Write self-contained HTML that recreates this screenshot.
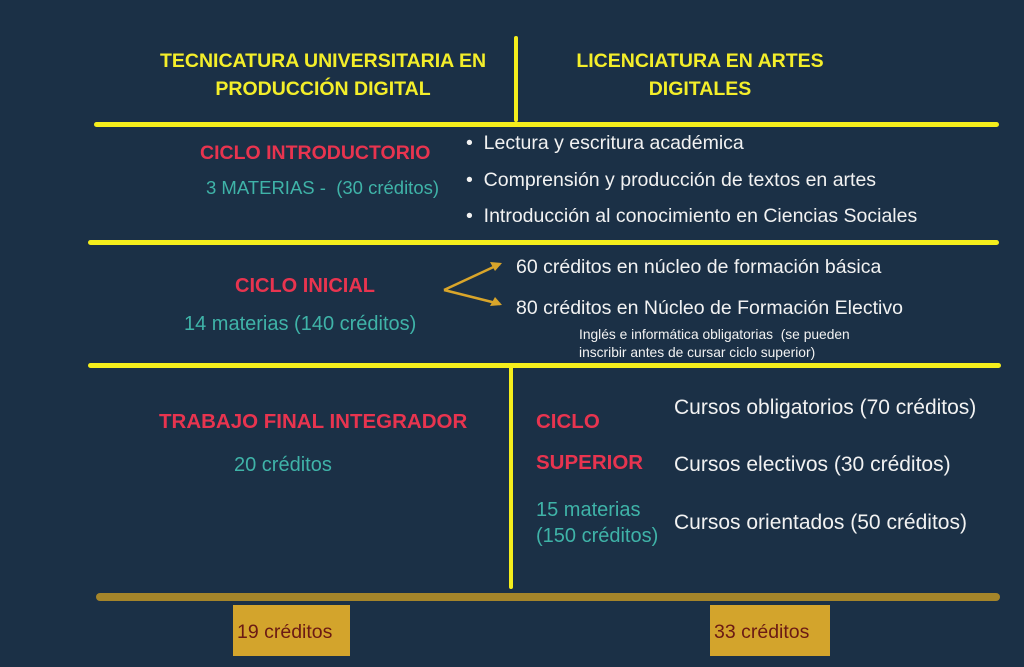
<!DOCTYPE html>
<html><head><meta charset="utf-8"><style>
body{margin:0;width:1024px;height:667px;background:#1b3046;position:relative;overflow:hidden;font-family:"Liberation Sans",sans-serif}
.t{position:absolute;white-space:nowrap}
.h{color:#f4ee2a;font-weight:bold;font-size:19.5px;text-align:center;line-height:28px}
.r{color:#e8344f;font-weight:bold;font-size:19.5px}
.g{color:#3fb3a8;font-size:18.5px}
.w{color:#f2f2f2;font-size:19.5px}
.c{color:#f2f2f2;font-size:21px}
.l{position:absolute;background:#f5ee1c;border-radius:3px}
</style></head><body>
<div class="t h" style="left:123px;top:47px;width:400px">TECNICATURA UNIVERSITARIA EN<br>PRODUCCIÓN DIGITAL</div>
<div class="t h" style="left:530px;top:47px;width:340px">LICENCIATURA EN ARTES<br>DIGITALES</div>
<div class="l" style="left:514px;top:36px;width:4px;height:86px"></div>
<div class="l" style="left:94px;top:122px;width:905px;height:5px"></div>
<div class="t r" style="left:200px;top:142px">CICLO INTRODUCTORIO</div>
<div class="t g" style="left:206px;top:177px">3 MATERIAS -&nbsp; (30 créditos)</div>
<div class="t w" style="left:466px;top:132px">•&nbsp; Lectura y escritura académica</div>
<div class="t w" style="left:466px;top:169px">•&nbsp; Comprensión y producción de textos en artes</div>
<div class="t w" style="left:466px;top:205px">•&nbsp; Introducción al conocimiento en Ciencias Sociales</div>
<div class="l" style="left:88px;top:240px;width:911px;height:5px"></div>
<div class="t r" style="left:235px;top:275px;font-size:20px">CICLO INICIAL</div>
<div class="t g" style="left:184px;top:313px;font-size:20px">14 materias (140 créditos)</div>
<svg class="t" style="left:440px;top:258px" width="70" height="56"><g stroke="#d9a52a" stroke-width="2.5" fill="none"><path d="M4 32 L60 6 M4 32 L60 46"/></g><path d="M62 5 L50 4 L55 13Z M62 47 L50 48 L55 39Z" fill="#d9a52a"/></svg>
<div class="t w" style="left:516px;top:256px">60 créditos en núcleo de formación básica</div>
<div class="t w" style="left:516px;top:297px">80 créditos en Núcleo de Formación Electivo</div>
<div class="t w" style="left:579px;top:326px;font-size:13.8px;line-height:18px">Inglés e informática obligatorias&nbsp; (se pueden<br>inscribir antes de cursar ciclo superior)</div>
<div class="l" style="left:88px;top:363px;width:913px;height:5px"></div>
<div class="l" style="left:509px;top:366px;width:4px;height:223px"></div>
<div class="t r" style="left:159px;top:410px;font-size:20.5px">TRABAJO FINAL INTEGRADOR</div>
<div class="t g" style="left:234px;top:454px;font-size:20px">20 créditos</div>
<div class="t r" style="left:536px;top:410px;font-size:20.5px">CICLO</div>
<div class="t r" style="left:536px;top:451px;font-size:20.5px">SUPERIOR</div>
<div class="t g" style="left:536px;top:497px;line-height:26px;font-size:20px">15 materias<br>(150 créditos)</div>
<div class="t c" style="left:674px;top:396px">Cursos obligatorios (70 créditos)</div>
<div class="t c" style="left:674px;top:453px">Cursos electivos (30 créditos)</div>
<div class="t c" style="left:674px;top:511px">Cursos orientados (50 créditos)</div>
<div style="position:absolute;left:96px;top:593px;width:904px;height:8px;background:#a5852a;border-radius:4px"></div>
<div style="position:absolute;left:233px;top:605px;width:117px;height:51px;background:#d3a42c"></div>
<div style="position:absolute;left:710px;top:605px;width:120px;height:51px;background:#d3a42c"></div>
<div class="t" style="left:237px;top:621px;color:#6b1a14;font-size:19.5px">19 créditos</div>
<div class="t" style="left:714px;top:621px;color:#6b1a14;font-size:19.5px">33 créditos</div>
</body></html>
